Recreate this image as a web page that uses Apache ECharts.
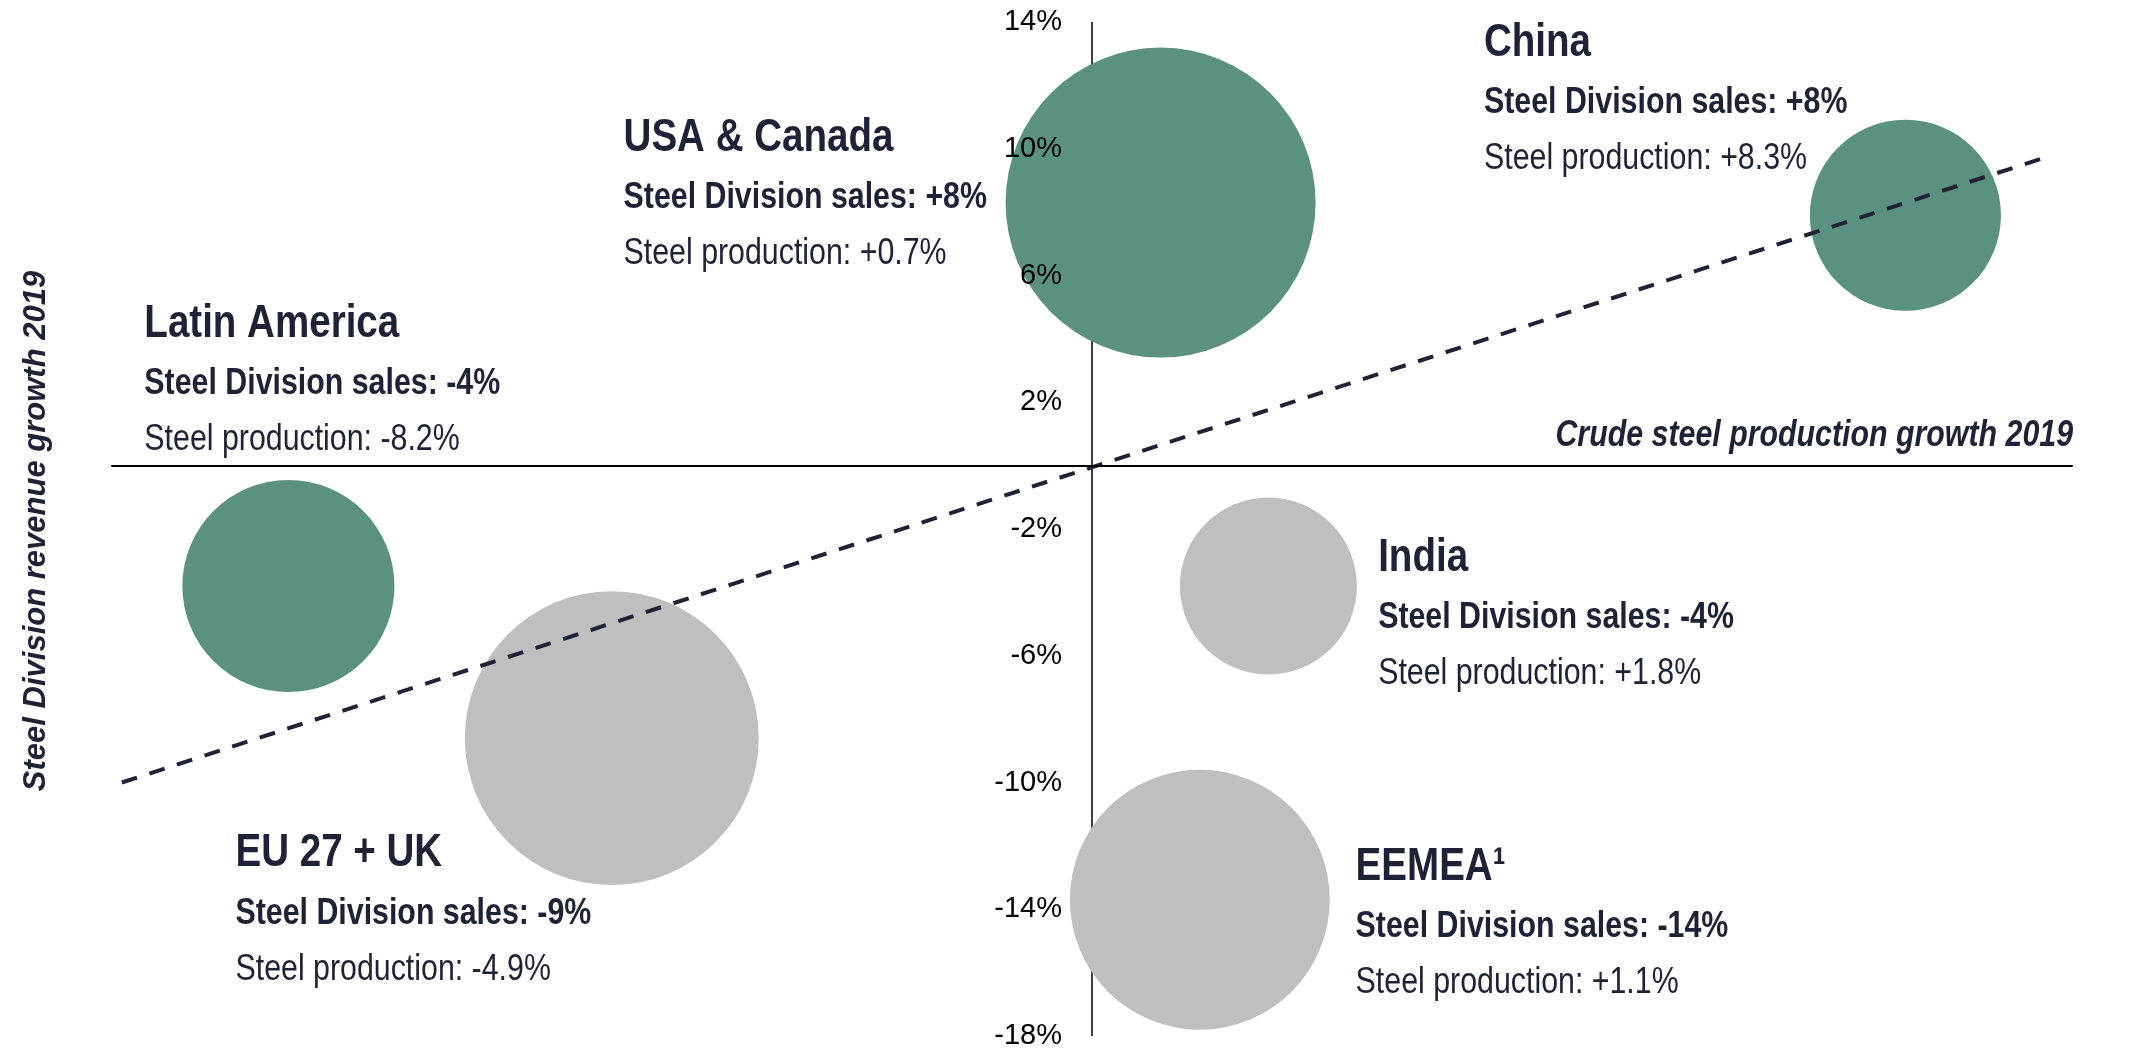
<!DOCTYPE html>
<html>
<head>
<meta charset="utf-8">
<script src="https://cdn.jsdelivr.net/npm/echarts@6/dist/echarts.min.js"></script>
<style>
html,body{margin:0;padding:0;background:#ffffff;}
#chart{width:2131px;height:1049px;}
</style>
</head>
<body>
<div id="chart"></div>
<script>
// ---------------- data ----------------
const regions = ['USA & Canada', 'China', 'Latin America', 'India', 'EU 27 + UK', 'EEMEA\u00B9'];
const productionGrowth = [0.7, 8.3, -8.2, 1.8, -4.9, 1.1];      // x: crude steel production growth 2019 (%)
const revenueGrowth = [8.3, 7.9, -3.8, -3.8, -8.6, -13.7];      // y: steel division revenue growth 2019 (%)
const salesShown = [8, 8, -4, -4, -9, -14];                      // rounded sales growth shown in the notes (%)
const bubbleValue = [100, 38.0, 46.8, 32.6, 89.9, 70.3];         // relative bubble size (area index)
const performance = ['above', 'above', 'above', 'below', 'below', 'below'];
const trendX = [-9.9, 9.75];
const trendY = [-10.0, 9.75];
const xTickMin = -10, xTickMax = 10, xTickStep = 2;
const yTickMin = -18, yTickMax = 14, yTickStep = 4;

// ---------------- layout (note blocks: left end of title baseline, in data units) ----------------
const noteLayoutX = [-4.78, 4.00, -9.67, 2.92, -8.74, 2.69];
const noteLayoutY = [9.89, 12.89, 4.02, -3.36, -12.70, -13.12];

// ---------------- styles ----------------
const NAVY = '#1f2236';
const GREEN = '#5b9180';
const GREY = '#bfbfbf';
const SANS = '"Liberation Sans", Arial, sans-serif';
const CONDENSE = 0.82;
const MAX_DIAMETER = 310;
const GRID_LEFT = 112;
const TITLE_SIZE = 47, LINE_SIZE = 37, SALES_DY = 57.5, PROD_DY = 113.5, TITLE_DY = 1, MID = 0.33;

function signed(v, digits) {
  return (v > 0 ? '+' : '') + v.toFixed(digits) + '%';
}

const bubbleData = regions.map((r, i) => ({
  name: r,
  value: [productionGrowth[i], revenueGrowth[i], bubbleValue[i]],
  itemStyle: { color: performance[i] === 'above' ? GREEN : GREY }
}));

const chart = echarts.init(document.getElementById('chart'), null, { renderer: 'canvas' });

chart.setOption({
  backgroundColor: '#ffffff',
  animation: false,
  grid: { left: GRID_LEFT, right: 59, top: 22, bottom: 13, containLabel: false, outerBoundsMode: 'none' },
  xAxis: {
    type: 'value',
    min: xTickMin, max: xTickMax, interval: xTickStep,
    z: 10,
    axisLine: { show: true, onZero: true, lineStyle: { color: '#000000', width: 2 } },
    axisTick: { show: false },
    splitLine: { show: false },
    axisLabel: {
      show: true, margin: 24, color: '#000000', fontSize: 29, fontFamily: SANS,
      showMinLabel: true, showMaxLabel: true, hideOverlap: false,
      formatter: v => v + '%'
    }
  },
  yAxis: {
    type: 'value',
    position: 'left',
    min: yTickMin, max: yTickMax, interval: yTickStep,
    z: 10,
    splitLine: { show: false },
    axisTick: { show: false },
    axisLine: { show: false, onZero: false },
    axisLabel: {
      show: true, margin: 30, color: '#000000', fontSize: 29, fontFamily: SANS,
      showMinLabel: true, showMaxLabel: true, hideOverlap: false,
      formatter: v => (v === 0 ? '' : v + '%')
    }
  },
  series: [
    {
      type: 'scatter',
      name: 'regions',
      z: 2,
      data: bubbleData,
      symbol: 'circle',
      symbolSize: val => MAX_DIAMETER * Math.sqrt(val[2] / 100),
      itemStyle: { opacity: 1 },
      emphasis: { disabled: true },
      silent: true,
      // vertical zero line of the y axis, kept underneath the bubbles
      markLine: {
        z: 1,
        silent: true,
        symbol: ['none', 'none'],
        label: { show: false },
        lineStyle: { color: '#000000', width: 1.5, type: 'solid', opacity: 1 },
        emphasis: { disabled: true },
        data: [{ xAxis: 0 }]
      }
    },
    {
      type: 'line',
      name: 'trend',
      z: 5,
      data: trendX.map((x, i) => [x, trendY[i]]),
      symbol: 'none',
      lineStyle: { color: NAVY, width: 4, type: [16, 13], opacity: 1 },
      silent: true
    }
  ]
});

// move the y axis (labels) onto x = 0, through the x axis scale
const zeroX = chart.convertToPixel({ xAxisIndex: 0 }, 0);
chart.setOption({ yAxis: { offset: -(zeroX - GRID_LEFT) } });

// note blocks, positioned through the chart's own coordinate system
function textEl(y, text, size, weight) {
  return {
    type: 'text', x: 0, y: y,
    style: {
      text: text, fontFamily: SANS, fontWeight: weight, fontSize: size,
      fill: NAVY, align: 'left', verticalAlign: 'middle'
    }
  };
}

const notes = regions.map((r, i) => {
  const p = chart.convertToPixel({ xAxisIndex: 0, yAxisIndex: 0 }, [noteLayoutX[i], noteLayoutY[i]]);
  return {
    type: 'group', x: p[0], y: p[1], scaleX: CONDENSE, z: 40, silent: true,
    children: [
      textEl(TITLE_DY - MID * TITLE_SIZE, r, TITLE_SIZE, 'bold'),
      textEl(SALES_DY - MID * LINE_SIZE, 'Steel Division sales: ' + signed(salesShown[i], 0), LINE_SIZE, 'bold'),
      textEl(PROD_DY - MID * LINE_SIZE, 'Steel production: ' + signed(productionGrowth[i], 1), LINE_SIZE, 'normal')
    ]
  };
});

chart.setOption({
  graphic: [
    {
      type: 'text',
      x: 36, y: 531,
      rotation: Math.PI / 2,
      z: 30, silent: true,
      style: {
        text: 'Steel Division revenue growth 2019',
        fontFamily: SANS, fontWeight: 'bold', fontStyle: 'italic', fontSize: 31,
        fill: NAVY, align: 'center', verticalAlign: 'middle'
      }
    },
    {
      type: 'group', x: 2073, y: 435.5, scaleX: CONDENSE, z: 30, silent: true,
      children: [{
        type: 'text', x: 0, y: 0,
        style: {
          text: 'Crude steel production growth 2019',
          fontFamily: SANS, fontWeight: 'bold', fontStyle: 'italic', fontSize: 37,
          fill: NAVY, align: 'right', verticalAlign: 'middle'
        }
      }]
    }
  ].concat(notes)
});
</script>
</body>
</html>
